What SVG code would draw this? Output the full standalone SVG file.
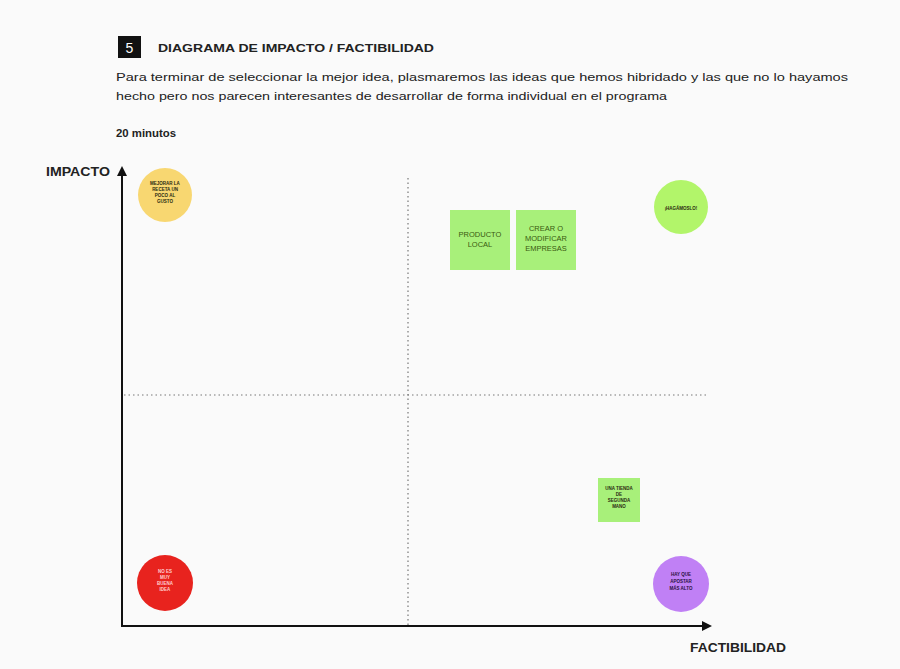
<svg xmlns="http://www.w3.org/2000/svg" width="900" height="669" viewBox="0 0 900 669">
<defs>
<style>
.t{font-family:"Liberation Sans",Arial,sans-serif;fill:#222}
.b{font-weight:bold}
.lab{font-family:"Liberation Sans",Arial,sans-serif;font-weight:bold;font-size:4.5px;text-anchor:middle;fill:#2a2a10}
.sq{font-family:"Liberation Sans",Arial,sans-serif;font-size:7.5px;text-anchor:middle;fill:#3a5a10}
.axis{stroke:#111;stroke-width:2;fill:none}
.dot{stroke:#777;stroke-width:1.2;stroke-dasharray:1.5 3;fill:none}
</style>
<marker id="ah" viewBox="0 0 10 10" refX="8" refY="5" markerWidth="5" markerHeight="5" orient="auto-start-reverse">
<path d="M0,0 L10,5 L0,10 z" fill="#111"/>
</marker>
</defs>
<rect width="900" height="669" fill="#fafafa"/>
<g id="header">
<rect x="118" y="36" width="23" height="22" fill="#111"/>
<text x="129.5" y="53" class="t" font-size="14" style="fill:#fff" text-anchor="middle">5</text>
<text x="158" y="52" class="t b" font-size="11.5" textLength="276" lengthAdjust="spacingAndGlyphs">DIAGRAMA DE IMPACTO / FACTIBILIDAD</text>
<text x="116" y="81" class="t" font-size="11.5" textLength="732" lengthAdjust="spacingAndGlyphs">Para terminar de seleccionar la mejor idea, plasmaremos las ideas que hemos hibridado y las que no lo hayamos</text>
<text x="116" y="100" class="t" font-size="11.5" textLength="551" lengthAdjust="spacingAndGlyphs">hecho pero nos parecen interesantes de desarrollar de forma individual en el programa</text>
<text x="116" y="137" class="t b" font-size="11.5" textLength="60" lengthAdjust="spacingAndGlyphs">20 minutos</text>
</g>
<g id="connectors">
<line class="dot" x1="408" y1="178" x2="408" y2="626"/>
<line class="dot" x1="124" y1="395" x2="706" y2="395"/>
<path class="axis" d="M122,626 L122,168" marker-end="url(#ah)"/>
<path class="axis" d="M121,626 L710,626" marker-end="url(#ah)"/>
</g>
<g id="axis-labels">
<text x="46" y="176" class="t b" font-size="12" textLength="64" lengthAdjust="spacingAndGlyphs">IMPACTO</text>
<text x="690" y="652" class="t b" font-size="12" textLength="96" lengthAdjust="spacingAndGlyphs">FACTIBILIDAD</text>
</g>
<g id="n-mejorar">
<circle cx="165" cy="195" r="27" fill="#f8d771"/>
<text class="lab" x="165" y="185">MEJORAR LA</text>
<text class="lab" x="165" y="191">RECETA UN</text>
<text class="lab" x="165" y="197">POCO AL</text>
<text class="lab" x="165" y="203">GUSTO</text>
</g>
<g id="n-producto">
<rect x="450" y="210" width="60" height="60" fill="#a8f07a"/>
<text class="sq" x="480" y="237">PRODUCTO</text>
<text class="sq" x="480" y="247">LOCAL</text>
</g>
<g id="n-crear">
<rect x="516" y="210" width="60" height="60" fill="#a8f07a"/>
<text class="sq" x="546" y="231">CREAR O</text>
<text class="sq" x="546" y="241">MODIFICAR</text>
<text class="sq" x="546" y="251">EMPRESAS</text>
</g>
<g id="n-hagamoslo">
<circle cx="681" cy="207" r="27" fill="#b2f56a"/>
<text class="lab" x="681" y="210">¡HAGÁMOSLO!</text>
</g>
<g id="n-tienda">
<rect x="598" y="478" width="42" height="44" fill="#a8f07a"/>
<text class="lab" x="619" y="490">UNA TIENDA</text>
<text class="lab" x="619" y="496">DE</text>
<text class="lab" x="619" y="502">SEGUNDA</text>
<text class="lab" x="619" y="508">MANO</text>
</g>
<g id="n-noes">
<circle cx="165" cy="583" r="28" fill="#e8231e"/>
<text class="lab" x="165" y="573" style="fill:#ffd0d0">NO ES</text>
<text class="lab" x="165" y="579" style="fill:#ffd0d0">MUY</text>
<text class="lab" x="165" y="585" style="fill:#ffd0d0">BUENA</text>
<text class="lab" x="165" y="591" style="fill:#ffd0d0">IDEA</text>
</g>
<g id="n-apostar">
<circle cx="681" cy="584" r="28" fill="#c080f5"/>
<text class="lab" x="681" y="576" style="fill:#2a1040">HAY QUE</text>
<text class="lab" x="681" y="583" style="fill:#2a1040">APOSTAR</text>
<text class="lab" x="681" y="590" style="fill:#2a1040">MÁS ALTO</text>
</g>
</svg>
